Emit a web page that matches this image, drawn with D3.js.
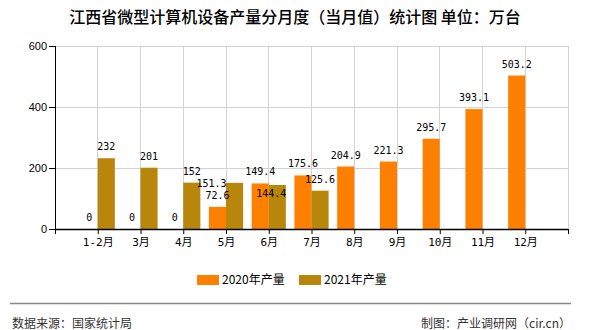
<!DOCTYPE html>
<html><head><meta charset="utf-8">
<script src="https://cdn.jsdelivr.net/npm/d3@7"></script>
<style>
html,body{margin:0;padding:0;background:#fff;}
svg{display:block;}
</style></head>
<body>
<script>
const categories = ["1-2月","3月","4月","5月","6月","7月","8月","9月","10月","11月","12月"];
const values2020 = [0,0,0,72.6,149.4,175.6,204.9,221.3,295.7,393.1,503.2];
const values2021 = [232,201,152,151.3,144.4,125.6,null,null,null,null,null];
const seriesNames = ["2020年产量","2021年产量"];
const yTicks = [0,200,400,600];
const titleText = "江西省微型计算机设备产量分月度（当月值）统计图 单位：万台";
const sourceText = "数据来源：国家统计局";
const creditText = "制图：产业调研网（cir.cn）";

const W = 590, H = 330;
const colors = ["#FF8000", "#B8860B"];
const pLeft = 55, pRight = 568, pTop = 46, pBottom = 229;
const step = (pRight - pLeft) / (categories.length + 1);
const barW = step * 0.4;

// label nudges to mimic the reference's collision-avoided placement (series index, category index -> dx, dy)
const labelNudge = {"1-3": [-23, 12], "1-4": [-6, 20]};

const svg = d3.select("body").append("svg").attr("width", W).attr("height", H);

const x = d3.scalePoint().domain(categories).range([pLeft + step, pRight - step]).padding(0);
const y = d3.scaleLinear().domain([0, 600]).range([pBottom, pTop]);

// title
svg.append("text").attr("x", 295).attr("y", 23).attr("text-anchor", "middle")
  .style("font-family", "'Noto Sans CJK SC', sans-serif").style("font-size", "16px")
  .style("font-weight", "500").attr("fill", "#000").text(titleText);

// horizontal gridlines
svg.append("g").selectAll("line").data(yTicks.filter(d => d > 0)).join("line")
  .attr("x1", pLeft).attr("x2", pRight).attr("y1", d => y(d)).attr("y2", d => y(d))
  .attr("stroke", "#d3d3d3").attr("stroke-width", 1).attr("shape-rendering", "crispEdges");

// vertical gridlines at tick positions + right edge
const vx = categories.map(c => x(c)).concat([pRight]);
svg.append("g").selectAll("line").data(vx).join("line")
  .attr("x1", d => d).attr("x2", d => d).attr("y1", pTop).attr("y2", pBottom)
  .attr("stroke", "#d3d3d3").attr("stroke-width", 1).attr("shape-rendering", "crispEdges");

// bars
const series = [values2020, values2021];
series.forEach((vals, si) => {
  svg.append("g").selectAll("rect").data(vals.map((v, i) => ({v, c: categories[i]})).filter(d => d.v !== null && d.v > 0))
    .join("rect")
    .attr("x", d => si === 0 ? x(d.c) - barW : x(d.c))
    .attr("width", barW)
    .attr("y", d => y(d.v))
    .attr("height", d => y(0) - y(d.v))
    .attr("fill", colors[si]);
});

// y axis
const yAxis = d3.axisLeft(y).tickValues(yTicks).tickSize(6).tickPadding(2).tickFormat(d3.format("d"));
const gy = svg.append("g").attr("transform", `translate(${pLeft},0)`).call(yAxis);
gy.select(".domain").attr("stroke", "#000").attr("d", `M0.5,${pTop}V${pBottom}`);
gy.selectAll(".tick line").attr("stroke", "#000");
gy.selectAll("text").style("font-family", "'Liberation Sans', Arial, sans-serif").style("font-size", "11px").attr("fill", "#000");

// x axis
const xAxis = d3.axisBottom(x).tickSize(5).tickPadding(4);
const gx = svg.append("g").attr("transform", `translate(0,${pBottom})`).call(xAxis);
gx.select(".domain").remove();
gx.append("path").attr("d", `M${pLeft},0.5H${pRight}`).attr("stroke", "#000").attr("stroke-width", 1.5);
gx.selectAll(".endtick").data([pLeft, pRight]).join("line").attr("class", "endtick")
  .attr("x1", d => d + 0.5).attr("x2", d => d + 0.5).attr("y1", 0).attr("y2", 5).attr("stroke", "#000");
gx.selectAll(".tick line").attr("stroke", "#000");
gx.selectAll("text").style("font-family", "'DejaVu Sans Mono', 'Noto Sans CJK SC', monospace").style("font-size", "11px").attr("fill", "#000");

// value labels
series.forEach((vals, si) => {
  svg.append("g").selectAll("text").data(vals.map((v, i) => ({v, i, c: categories[i]})).filter(d => d.v !== null))
    .join("text")
    .attr("x", d => (si === 0 ? x(d.c) - barW / 2 : x(d.c) + barW / 2) + ((labelNudge[si + "-" + d.i] || [0, 0])[0]))
    .attr("y", d => y(d.v) - 8 + ((labelNudge[si + "-" + d.i] || [0, 0])[1]))
    .attr("text-anchor", "middle")
    .style("font-family", "'DejaVu Sans Mono', monospace").style("font-size", "10px")
    .attr("fill", "#000")
    .text(d => d.v);
});

// legend
const legend = svg.append("g");
const legX = [197, 299];
seriesNames.forEach((n, i) => {
  legend.append("rect").attr("x", legX[i]).attr("y", 275).attr("width", 22).attr("height", 10).attr("fill", colors[i]);
  legend.append("text").attr("x", legX[i] + 25).attr("y", 284).text(n)
    .style("font-family", "'Noto Sans CJK SC', sans-serif").style("font-size", "12px").attr("fill", "#000");
});

// separator
svg.append("line").attr("x1", 10).attr("x2", 571).attr("y1", 303.5).attr("y2", 303.5)
  .attr("stroke", "#888").attr("stroke-width", 1.5);

// footer
svg.append("text").attr("x", 12).attr("y", 328).text(sourceText)
  .style("font-family", "'Noto Sans CJK SC', sans-serif").style("font-size", "12px").attr("fill", "#333");
svg.append("text").attr("x", 571).attr("y", 328).attr("text-anchor", "end").text(creditText)
  .style("font-family", "'Noto Sans CJK SC', sans-serif").style("font-size", "12px").attr("fill", "#333");
</script>
</body></html>
